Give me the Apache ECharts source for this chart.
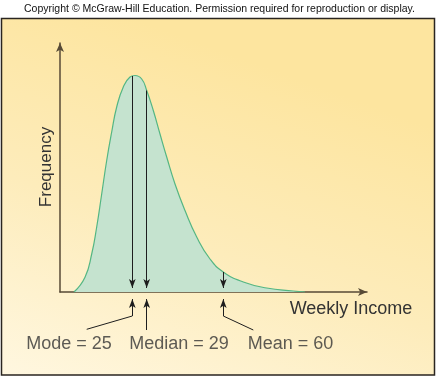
<!DOCTYPE html>
<html>
<head>
<meta charset="utf-8">
<script src="https://cdn.jsdelivr.net/npm/echarts@6/dist/echarts.min.js"></script>
<style>
  html, body { margin: 0; padding: 0; background: #fff; }
  #main { width: 439px; height: 377px; }
</style>
</head>
<body>
<div id="main"></div>
<script>
// curve (arbitrary units: income along x, frequency along y)
var incomeX = [14, 25, 31.7, 36.7, 41.7, 46.7, 51.7, 56.7, 63.3, 70, 75, 81.7, 86.7, 93.3, 100, 106.7, 115, 125, 136.7, 150, 163.3, 183.3, 206.7, 233.3, 245];
var freqY   = [0, 14.8, 38, 65, 98, 131.5, 160, 185, 205, 215, 216.5, 213, 201.5, 181.5, 158, 135, 108, 81.5, 55, 33, 20, 10, 4, 1, 0];

// the three measures of centre
var measureNames = ['Mode', 'Median', 'Mean'];
var measureValues = [25, 29, 60];
var measureX = [72.3, 86.7, 163.3];     // where each sits on the drawn axis
var measureTop = [216, 201.5, 20];      // height of the curve there
var labelX = [9, 119, 230.5];           // label centres (lower panel)

var chart = echarts.init(document.getElementById('main'));

var ink = '#1e1e1e';
var font = 'Liberation Sans, Arial, Helvetica, sans-serif';

var curveData = incomeX.map(function (x, i) { return [x, freqY[i]]; });

// down arrows from the curve to the axis
var downArrows = measureX.map(function (x, i) {
  return [{ coord: [x, measureTop[i]] }, { coord: [x, 4] }];
});

// up arrows below the axis plus the leader lines to the labels
var upArrows = [
  [{ coord: [measureX[0], -24] }, { coord: [measureX[0], -7] }],
  [{ coord: [measureX[1], -38] }, { coord: [measureX[1], -7] }],
  [{ coord: [measureX[2], -24] }, { coord: [measureX[2], -7] }]
];
var leaders = [
  [{ coord: [measureX[0], -24] }, { coord: [26.7, -37.3] }],
  [{ coord: [measureX[2], -24] }, { coord: [193.3, -38] }]
];

var labelData = measureNames.map(function (n, i) {
  return { value: [labelX[i], -52.5], name: n + ' = ' + measureValues[i] };
});

var option = {
  backgroundColor: '#ffffff',
  animation: false,
  graphic: [
    {
      type: 'rect',
      z: -100,
      silent: true,
      shape: { x: 1.5, y: 18.5, width: 433, height: 356.5 },
      style: {
        fill: new echarts.graphic.LinearGradient(0.3, 0, 0, 1, [
          { offset: 0, color: '#fde59f' },
          { offset: 0.5, color: '#fdecbb' },
          { offset: 1, color: '#fff7e0' }
        ]),
        stroke: '#2a2520',
        lineWidth: 1.5
      }
    },
    {
      type: 'text',
      x: 219.5, y: 9,
      style: {
        text: 'Copyright \u00a9 McGraw-Hill Education. Permission required for reproduction or display.',
        fontSize: 10.5, fontFamily: font, fill: '#111',
        align: 'center', verticalAlign: 'middle'
      }
    },
    {
      type: 'text',
      x: 351, y: 309,
      style: {
        text: 'Weekly Income', fontSize: 18, fontFamily: font, fill: '#333',
        align: 'center', verticalAlign: 'middle'
      }
    },
    {
      type: 'text',
      x: 46, y: 167,
      rotation: Math.PI / 2,
      style: {
        text: 'Frequency', fontSize: 17, fontFamily: font, fill: '#333',
        align: 'center', verticalAlign: 'middle'
      }
    }
  ],
  grid: [
    { left: 60, right: 72, top: 43, bottom: 85 },
    { left: 60, right: 72, top: 292, bottom: 0 }
  ],
  xAxis: [
    {
      type: 'value', gridIndex: 0, min: 0, max: 307,
      axisLine: {
        show: true, symbol: ['none', 'arrow'], symbolSize: [6, 9],
        lineStyle: { color: '#574a36', width: 1.5 }
      },
      axisTick: { show: false }, axisLabel: { show: false }, splitLine: { show: false }
    },
    {
      type: 'value', gridIndex: 1, min: 0, max: 307, show: false
    }
  ],
  yAxis: [
    {
      type: 'value', gridIndex: 0, min: 0, max: 249,
      axisLine: {
        show: true, symbol: ['none', 'arrow'], symbolSize: [6, 9],
        lineStyle: { color: '#574a36', width: 1.5 }
      },
      axisTick: { show: false }, axisLabel: { show: false }, splitLine: { show: false }
    },
    {
      type: 'value', gridIndex: 1, min: -85, max: 0, show: false
    }
  ],
  series: [
    {
      name: 'Weekly Income',
      type: 'line',
      xAxisIndex: 0, yAxisIndex: 0,
      data: curveData,
      smooth: 0.5,
      showSymbol: false,
      lineStyle: { color: '#54b683', width: 1.2 },
      areaStyle: { color: '#c5e3cf', opacity: 1 },
      silent: true,
      markLine: {
        silent: true,
        symbol: ['none', 'arrow'],
        symbolSize: [5, 9],
        label: { show: false },
        lineStyle: { color: ink, width: 1, type: 'solid' },
        emphasis: { disabled: true },
        data: downArrows
      }
    },
    {
      name: 'labels',
      type: 'scatter',
      xAxisIndex: 1, yAxisIndex: 1,
      symbolSize: 0,
      silent: true,
      clip: false,
      data: labelData,
      label: {
        show: true, position: 'inside',
        formatter: function (p) { return p.name; },
        fontSize: 18, fontFamily: font, color: '#333'
      },
      markLine: {
        silent: true,
        symbol: ['none', 'arrow'],
        symbolSize: [5, 9],
        label: { show: false },
        lineStyle: { color: ink, width: 1, type: 'solid' },
        emphasis: { disabled: true },
        data: upArrows.concat(leaders.map(function (l) {
          return [
            { coord: l[0].coord, symbol: 'none' },
            { coord: l[1].coord, symbol: 'none' }
          ];
        }))
      }
    }
  ]
};

chart.setOption(option);
</script>
</body>
</html>
